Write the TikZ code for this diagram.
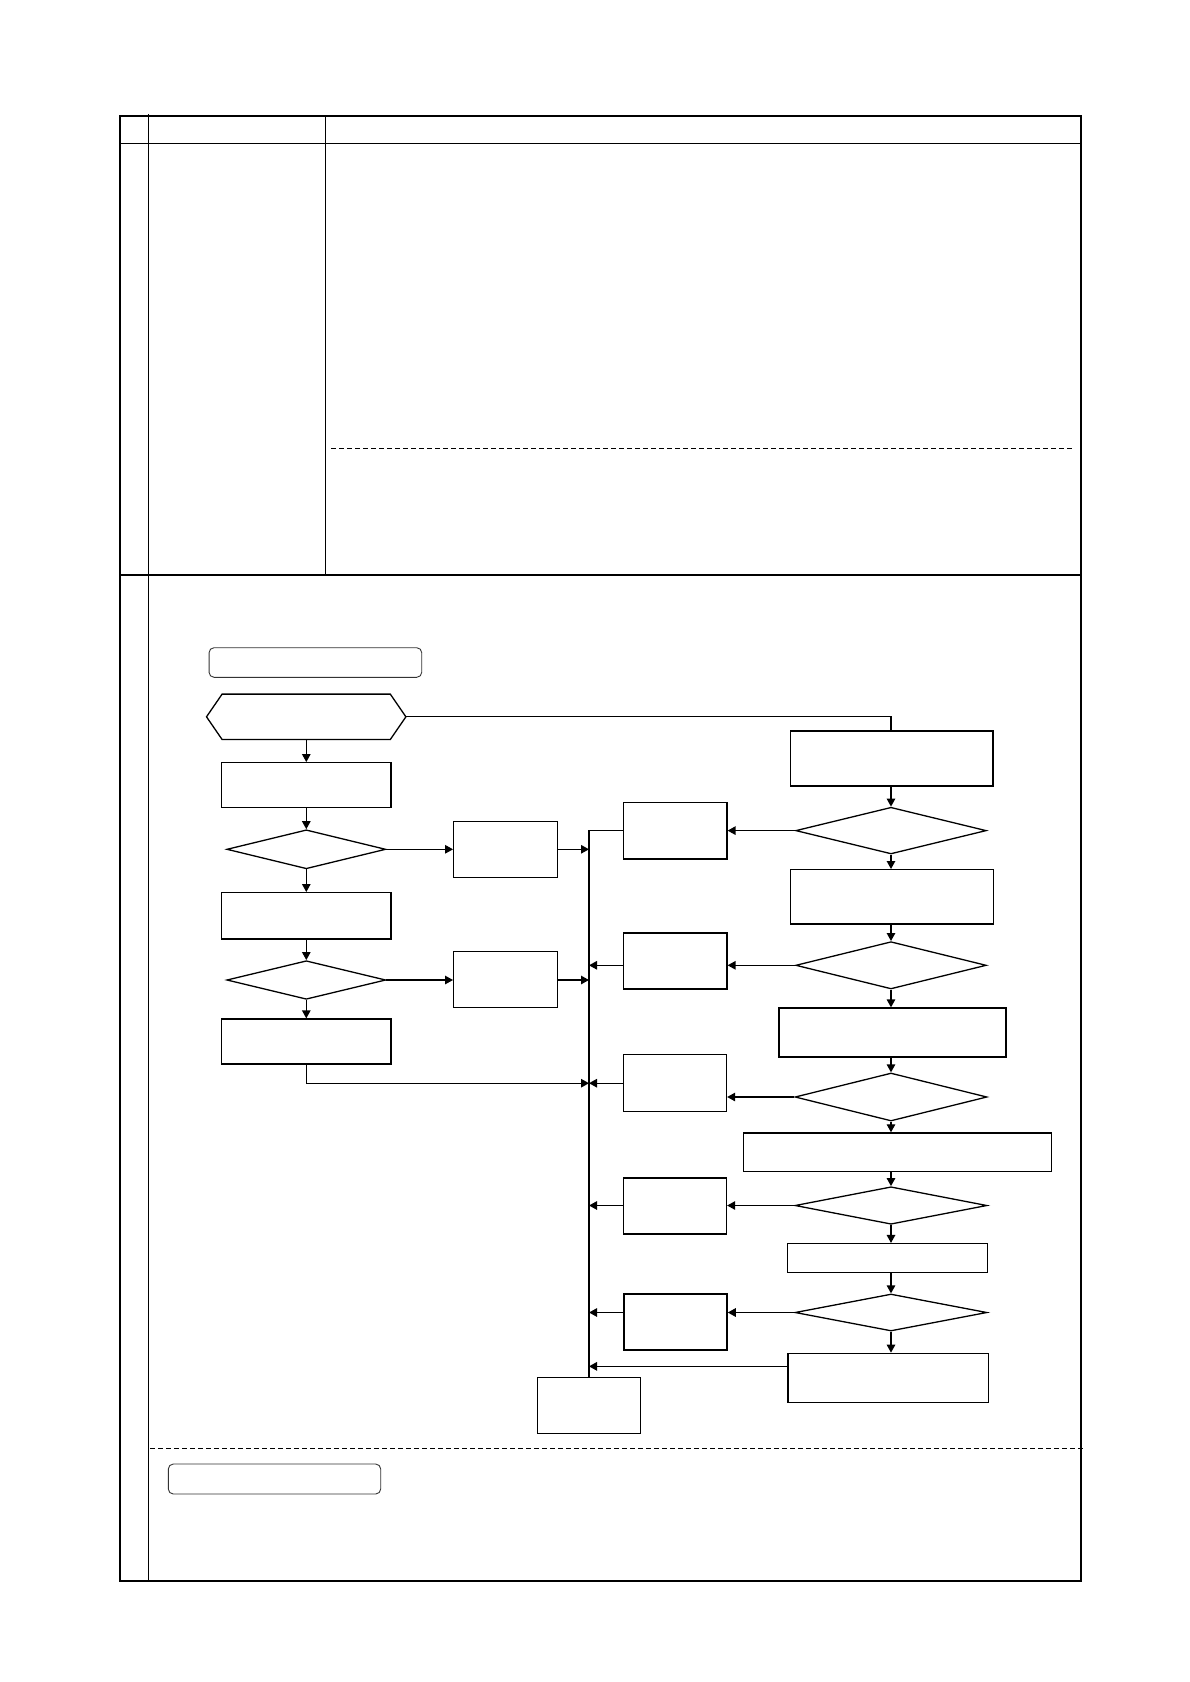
\documentclass[tikz,border=0pt]{standalone}
\usepackage{tikz}
\usetikzlibrary{shapes.geometric, arrows.meta, calc}

\begin{document}
\begin{tikzpicture}[
  x=1pt, y=-1pt,
  procbox/.style={draw, rectangle, line width=1.3pt, inner sep=0pt},
  decision/.style={draw, diamond, line width=1.3pt, inner sep=0pt},
  titlebox/.style={draw=black!80, rectangle, rounded corners=5pt, line width=0.9pt, inner sep=0pt},
  flow/.style={-{Stealth[inset=0pt, length=8pt, width=8.5pt]}, line width=1.3pt},
  link/.style={line width=1.3pt},
  rule/.style={line width=1.2pt},
  sep/.style={dashed, dash pattern=on 4.5pt off 3.5pt, line width=1pt},
]
  \useasboundingbox (0,0) rectangle (1190,1682);

  % Form frame
  \draw[line width=2pt] (120,116) rectangle (1080.7,1580.7);
  \draw[rule] (148.5,114) -- (148.5,1580.7);
  \draw[rule] (325.3,116) -- (325.3,575);
  \draw[rule] (120,143.3) -- (1080.7,143.3);
  \draw[rule] (120,575) -- (1080.7,575);
  \draw[sep] (331,448.3) -- (1071.7,448.3);
  \draw[sep] (150,1448.3) -- (1086,1448.3);

  % Title boxes
  \node[titlebox, minimum width=212.7pt, minimum height=29.6pt] (titleA) at (315.4,662.5) {};
  \node[titlebox, minimum width=212.4pt, minimum height=30pt] (titleB) at (274.5,1479) {};

  % Start (hexagon)
  \node[minimum width=199pt, minimum height=45pt, inner sep=0pt] (start) at (306.2,716.8) {};
  \draw[link] (start.west) -- ([xshift=15.6pt]start.north west)
      -- ([xshift=-15.6pt]start.north east) -- (start.east)
      -- ([xshift=-15.6pt]start.south east) -- ([xshift=15.6pt]start.south west) -- cycle;

  % Left column
  \node[procbox, minimum width=169.3pt, minimum height=45pt] (stepA1) at (306.3,785.2) {};
  \node[decision, minimum width=159pt, minimum height=39pt] (testA1) at (306.3,849.3) {};
  \node[procbox, minimum width=169.3pt, minimum height=46.3pt] (stepA2) at (306.3,915.8) {};
  \node[decision, minimum width=159pt, minimum height=38.6pt] (testA2) at (306.3,980) {};
  \node[procbox, minimum width=169.3pt, minimum height=45pt] (stepA3) at (306.3,1041.5) {};

  \node[procbox, minimum width=103.6pt, minimum height=55.6pt] (sideB1) at (505.5,849.5) {};
  \node[procbox, minimum width=103.6pt, minimum height=56pt] (sideB2) at (505.5,979.7) {};

  % Right column
  \node[procbox, minimum width=202.3pt, minimum height=55pt] (stepR1) at (891.8,758.5) {};
  \node[decision, minimum width=190.6pt, minimum height=46.7pt] (testR1) at (891,830.6) {};
  \node[procbox, minimum width=202.6pt, minimum height=54.3pt] (stepR2) at (892,896.8) {};
  \node[decision, minimum width=190.6pt, minimum height=47.3pt] (testR2) at (891,965.3) {};
  \node[procbox, minimum width=227pt, minimum height=49pt] (stepR3) at (892.5,1032.5) {};
  \node[decision, minimum width=192pt, minimum height=48pt] (testR3) at (891,1097) {};
  \node[procbox, minimum width=308pt, minimum height=38.7pt] (stepR4) at (897.5,1152.3) {};
  \node[decision, minimum width=192pt, minimum height=37.5pt] (testR4) at (891,1205.5) {};
  \node[procbox, minimum width=199.6pt, minimum height=29pt] (stepR5) at (887.4,1258.1) {};
  \node[decision, minimum width=192pt, minimum height=37pt] (testR5) at (891,1312.5) {};
  \node[procbox, minimum width=200.5pt, minimum height=49.4pt] (stepR6) at (888.3,1378) {};

  % Middle column
  \node[procbox, minimum width=103.3pt, minimum height=56.3pt] (sideC1) at (675.3,830.8) {};
  \node[procbox, minimum width=103.3pt, minimum height=56pt] (sideC2) at (675.3,961) {};
  \node[procbox, minimum width=103pt, minimum height=56.8pt] (sideC3) at (675,1083.2) {};
  \node[procbox, minimum width=103pt, minimum height=56pt] (sideC4) at (675,1206) {};
  \node[procbox, minimum width=103pt, minimum height=56pt] (sideC5) at (675.6,1322) {};
  \node[procbox, minimum width=103pt, minimum height=55.8pt] (finish) at (589,1405.6) {};

  % Left flow
  \draw[flow] (start.south -| stepA1.north) -- (stepA1.north);
  \draw[flow] (stepA1.south) -- (testA1.north);
  \draw[flow] (testA1.south) -- (stepA2.north);
  \draw[flow] (stepA2.south) -- (testA2.north);
  \draw[flow] (testA2.south) -- (stepA3.north);
  \draw[flow] (testA1.east) -- (sideB1.west |- testA1.east);
  \draw[flow] (testA2.east) -- (sideB2.west |- testA2.east);
  \draw[flow] (sideB1.east |- testA1.east) -- (finish.north |- testA1.east);
  \draw[flow] (sideB2.east |- testA2.east) -- (finish.north |- testA2.east);
  \draw[flow] (stepA3.south) -- (stepA3.south |- sideC3.west) -- (finish.north |- sideC3.west);

  % Right flow
  \draw[link] (start.east) -| (stepR1.north -| testR1.north);
  \foreach \a/\b in {stepR1/testR1, stepR2/testR2, stepR3/testR3, stepR4/testR4, stepR5/testR5}
    \draw[flow] (\b.north |- \a.south) -- (\b.north);
  \foreach \a/\b in {testR1/stepR2, testR2/stepR3, testR3/stepR4, testR4/stepR5, testR5/stepR6}
    \draw[flow] (\a.south) -- (\a.south |- \b.north);
  \foreach \a/\b in {testR1/sideC1, testR2/sideC2, testR3/sideC3, testR4/sideC4, testR5/sideC5}
    \draw[flow] (\a.west) -- (\a.west -| \b.east);

  % Return bus
  \draw[link] (sideC1.west) -- (sideC1.west -| finish.north) -- (finish.north);
  \foreach \c/\a in {sideC2/testR2, sideC4/testR4, sideC5/testR5}
    \draw[flow] (\c.west |- \a.west) -- (\a.west -| finish.north);
  \draw[flow] (sideC3.west) -- (sideC3.west -| finish.north);
  \coordinate (backR6) at ($(stepR6.north west)!0.27!(stepR6.south west)$);
  \draw[flow] (backR6) -- (backR6 -| finish.north);
\end{tikzpicture}
\end{document}
